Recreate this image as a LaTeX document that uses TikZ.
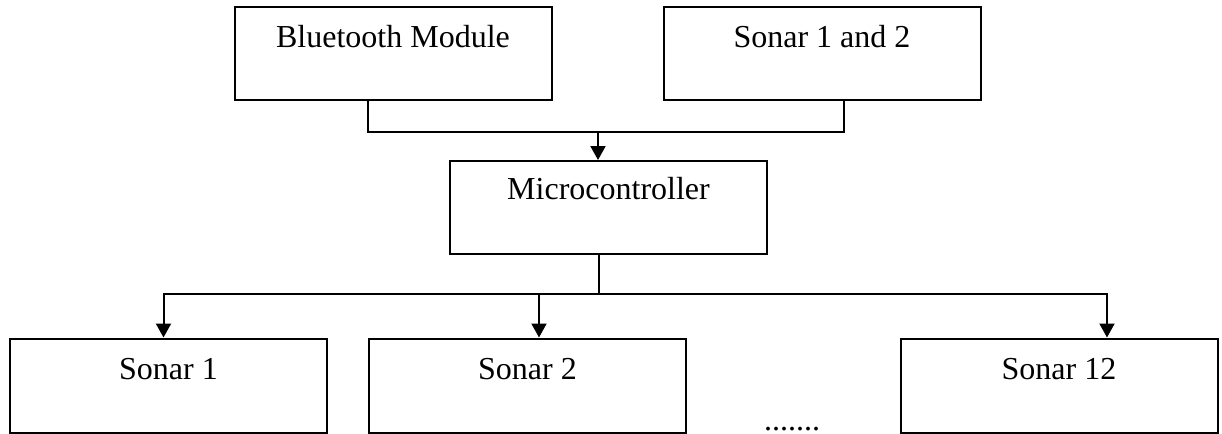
\documentclass[tikz,border=0pt]{standalone}
\usepackage{fontspec}
\setmainfont{Liberation Serif}
\usetikzlibrary{arrows.meta}
\begin{document}
\begin{tikzpicture}[x=0.5pt,y=-0.5pt,
  box/.style={draw=black, line width=1pt, rectangle, minimum width=158.5pt, minimum height=46.5pt, inner sep=0pt},
  lbl/.style={font=\fontsize{16}{19}\selectfont, anchor=base, inner sep=0pt},
  wire/.style={draw=black, line width=1pt},
  arr/.style={wire, -{Triangle[width=7.5pt,length=7pt]}}]
\useasboundingbox (0,0) rectangle (1222,434);
% boxes
\node[box] (bt)  at (393,53.5)   {};
\node[box] (snr) at (822,53.5)   {};
\node[box] (mc)  at (608.5,207.5) {};
\node[box, minimum height=47pt] (s1)  at (168.5,385.5) {};
\node[box, minimum height=47pt] (s2)  at (527.5,385.5) {};
\node[box, minimum height=47pt] (s12) at (1059,385.5)  {};
% labels
\node[lbl] (tbt)  at ([yshift=-20.5pt]bt.north)  {Bluetooth Module};
\node[lbl] (tsnr) at ([yshift=-20.5pt]snr.north) {Sonar 1 and 2};
\node[lbl] (tmc)  at ([yshift=-19.5pt]mc.north)  {Microcontroller};
\node[lbl] (ts1)  at ([yshift=-21pt]s1.north)    {Sonar 1};
\node[lbl] (ts2)  at ([yshift=-21pt]s2.north)    {Sonar 2};
\node[lbl] (ts12) at ([yshift=-21pt]s12.north)   {Sonar 12};
\node[lbl] (dots) at (792,430) {.......};
% inputs to the microcontroller
\coordinate (j1) at (598,132);
\draw[wire] ([xshift=-12.5pt]bt.south) |- (j1) -| ([xshift=11pt]snr.south);
\draw[arr] (j1) -- (mc.north -| j1);
% outputs to the sonars
\coordinate (j2) at (599,294);
\draw[wire] (mc.south -| j2) -- (j2);
\draw[arr] (j2) -| ([xshift=-2.5pt]s1.north);
\draw[arr] (j2) -| ([xshift=5.75pt]s2.north);
\draw[arr] (j2) -| ([xshift=24pt]s12.north);
\end{tikzpicture}
\end{document}
